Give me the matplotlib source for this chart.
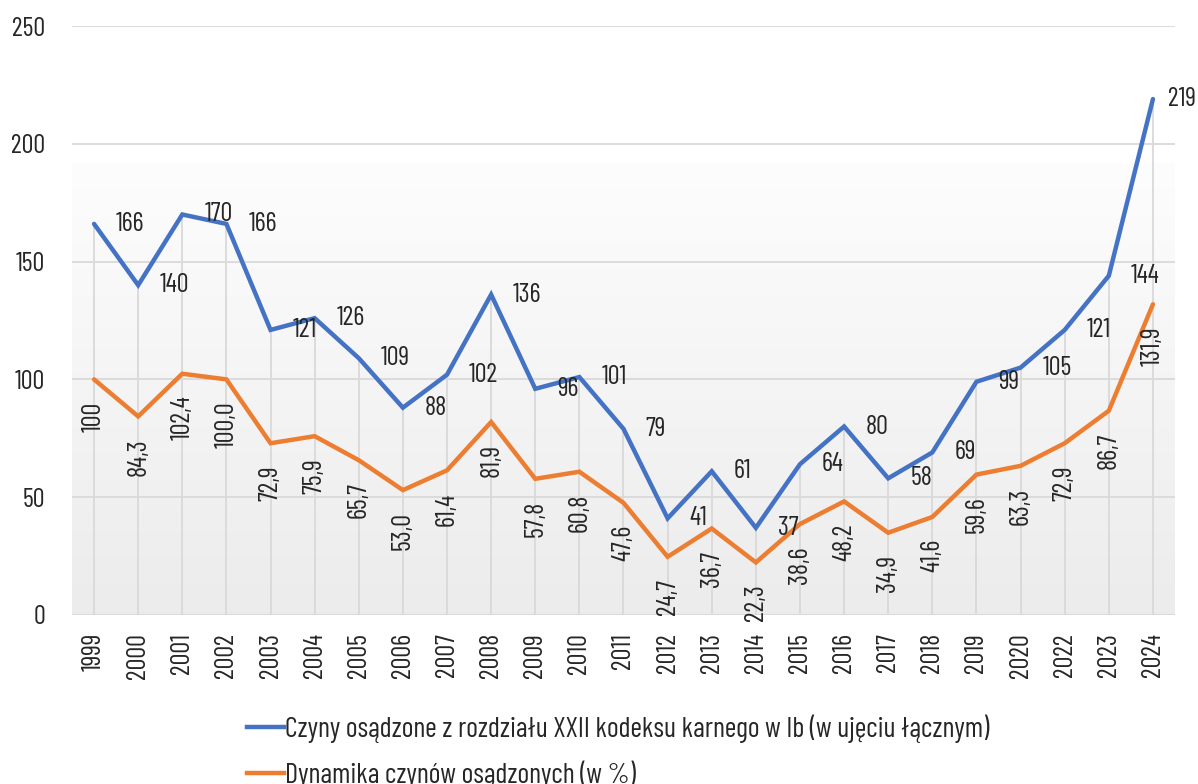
import numpy as np
import matplotlib
matplotlib.use("Agg")
import matplotlib.pyplot as plt
from matplotlib import font_manager as fm
from matplotlib.lines import Line2D

years = ["1999", "2000", "2001", "2002", "2003", "2004", "2005", "2006", "2007",
         "2008", "2009", "2010", "2011", "2012", "2013", "2014", "2015", "2016",
         "2017", "2018", "2019", "2020", "2022", "2023", "2024"]
czyny = [166, 140, 170, 166, 121, 126, 109, 88, 102, 136, 96, 101, 79, 41, 61,
         37, 64, 80, 58, 69, 99, 105, 121, 144, 219]
dynamika = [100, 84.3, 102.4, 100.0, 72.9, 75.9, 65.7, 53.0, 61.4, 81.9, 57.8,
            60.8, 47.6, 24.7, 36.7, 22.3, 38.6, 48.2, 34.9, 41.6, 59.6, 63.3,
            72.9, 86.7, 131.9]
dynamika_labels = ["100", "84,3", "102,4", "100,0", "72,9", "75,9", "65,7", "53,0",
                   "61,4", "81,9", "57,8", "60,8", "47,6", "24,7", "36,7", "22,3",
                   "38,6", "48,2", "34,9", "41,6", "59,6", "63,3", "72,9", "86,7",
                   "131,9"]
series_names = ["Czyny osądzone z rozdziału XXII kodeksu karnego w Ib (w ujęciu łącznym)",
                "Dynamika czynów osądzonych (w %)"]

BLUE = "#4472C4"
ORANGE = "#ED7D31"
TEXT = "#262626"
GRID = "#d9d9d9"

# pick a condensed font if available
pref = ["Barlow Condensed", "Roboto Condensed", "Liberation Sans Narrow",
        "Open Sans Condensed", "Noto Sans Condensed", "Arial Narrow"]
fname = None
cands = [f for f in fm.fontManager.ttflist
         if f.stretch in ("condensed", "semi-condensed", "extra-condensed")
         and f.style == "normal" and f.weight in (400, "normal", "regular", "book")]
for p in pref:
    for f in cands:
        if f.name == p:
            fname = f.fname
            break
    if fname:
        break
if fname is None and cands:
    fname = cands[0].fname

def fp(size):
    if fname:
        return fm.FontProperties(fname=fname, size=size)
    return fm.FontProperties(family="DejaVu Sans", size=size * 0.8)

FS = 19

fig = plt.figure(figsize=(11.98, 7.84), dpi=100)
ax = fig.add_axes([0.0601, 0.2156, 0.9207, 0.7512])
x = np.arange(len(years))
ax.set_xlim(-0.5, len(years) - 0.5)
ax.set_ylim(0, 250)

# gradient background
grad = np.linspace(0, 1, 256).reshape(-1, 1)
top = np.array([0.992, 0.992, 0.992])
bot = np.array([0.925, 0.925, 0.925])
img = top[None, None, :] * (1 - grad[:, :, None]) + bot[None, None, :] * grad[:, :, None]
ax.imshow(img, extent=(-0.5, len(years) - 0.5, 0, 191.5), aspect="auto",
          zorder=0, origin="upper")

for v in [0, 50, 100, 150, 200, 250]:
    ax.axhline(v, color=GRID, lw=1.3, zorder=1)
for s in ax.spines.values():
    s.set_visible(False)

# drop lines
top_vals = np.maximum(czyny, dynamika)
ax.vlines(x, 0, top_vals, color=GRID, lw=1.3, zorder=1)

ax.plot(x, czyny, color=BLUE, lw=3.2, zorder=3, solid_capstyle="round",
        solid_joinstyle="miter")
ax.plot(x, dynamika, color=ORANGE, lw=3.2, zorder=3, solid_capstyle="round",
        solid_joinstyle="miter")

px2pt = 72 / 100
for i, v in enumerate(czyny):
    off = 22 if i < len(czyny) - 1 else 15
    ax.annotate(str(v), (x[i], v), xytext=(off * px2pt, 0), textcoords="offset points",
                ha="left", va="center", fontproperties=fp(FS), color=TEXT, zorder=4)
for i, v in enumerate(dynamika):
    ax.annotate(dynamika_labels[i], (x[i], v), xytext=(0, -22 * px2pt),
                textcoords="offset points", ha="center", va="top", rotation=90,
                fontproperties=fp(FS), color=TEXT, zorder=4)

ax.set_xticks(x)
ax.set_xticklabels(years, rotation=90, fontproperties=fp(FS), color=TEXT)
ax.set_yticks([0, 50, 100, 150, 200, 250])
ax.set_yticklabels(["0", "50", "100", "150", "200", "250"], fontproperties=fp(FS),
                   color=TEXT)
ax.tick_params(axis="both", length=0)
ax.tick_params(axis="x", pad=18 * px2pt)
ax.tick_params(axis="y", pad=27 * px2pt)

handles = [Line2D([], [], color=BLUE, lw=3.2), Line2D([], [], color=ORANGE, lw=3.2)]
leg = fig.legend(handles, series_names, loc="upper left",
                 bbox_to_anchor=(236 / 1198, 1 - 703 / 784), frameon=False,
                 prop=fp(20.3), handlelength=1.3, handletextpad=0.03,
                 labelspacing=0.62, borderaxespad=0)
for t in leg.get_texts():
    t.set_color(TEXT)

fig.savefig("out.png", dpi=100)
